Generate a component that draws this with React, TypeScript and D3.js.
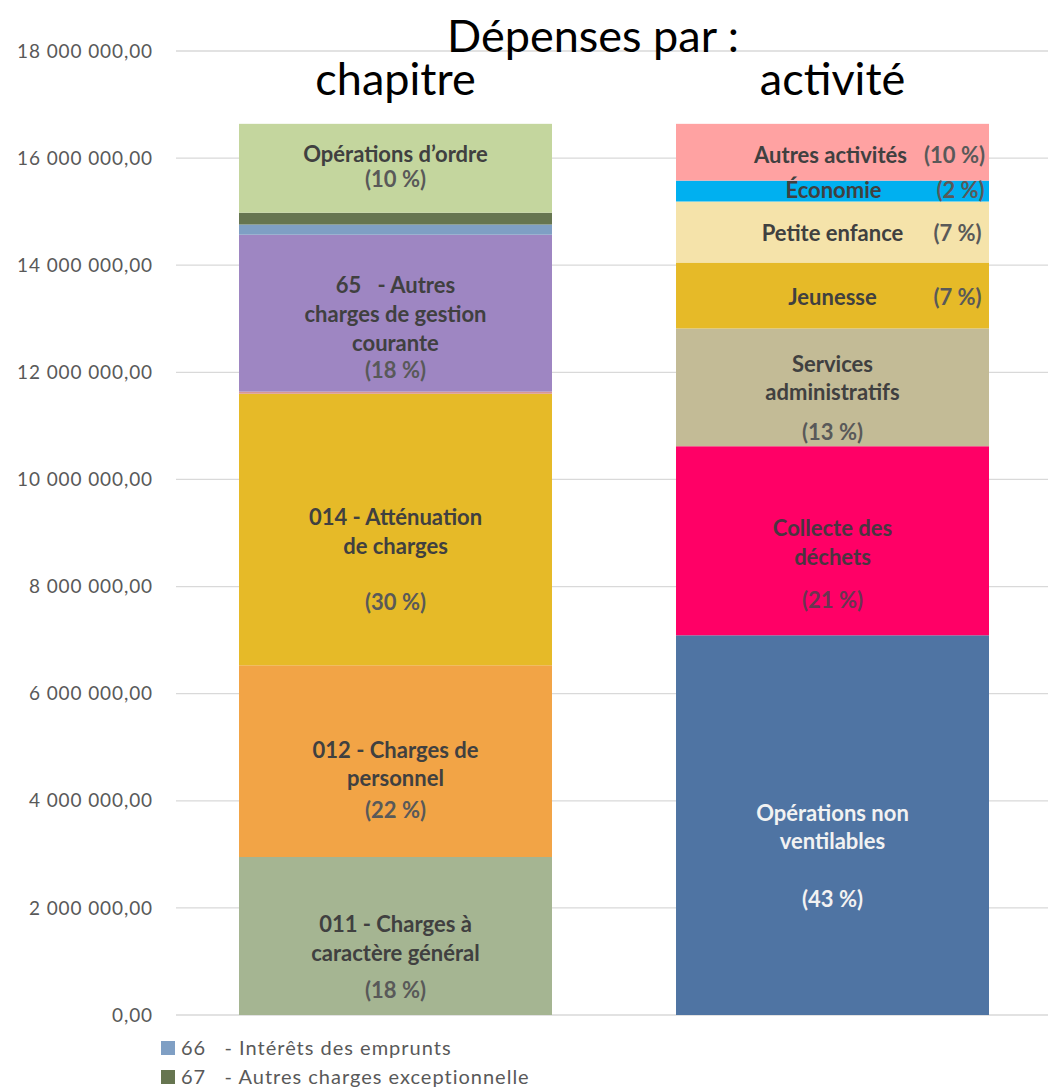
import React from "react";
import * as d3 from "d3";

const yTicks = [0, 2000000, 4000000, 6000000, 8000000, 10000000, 12000000, 14000000, 16000000, 18000000];

// Left bar: "chapitre"
const chapNames = ["011 - Charges à caractère général", "012 - Charges de personnel", "014 - Atténuation de charges", "016", "65 - Autres charges de gestion courante", "66 - Intérêts des emprunts", "67 - Autres charges exceptionnelle", "Opérations d'ordre"];
const chapValues = [2950000, 3580000, 5070000, 40000, 2930000, 190000, 220000, 1660000];
const chapColors = ["#A5B592", "#F2A446", "#E6BA28", "#D99694", "#9E86C2", "#7F9FC4", "#667550", "#C4D69E"];

// Right bar: "activité"
const actNames = ["Opérations non ventilables", "Collecte des déchets", "Services administratifs", "Jeunesse", "Petite enfance", "Économie", "Autres activités"];
const actValues = [7090000, 3530000, 2200000, 1230000, 1140000, 390000, 1060000];
const actColors = ["#4F74A3", "#FF0066", "#C3BB96", "#E6BA28", "#F5E3AA", "#00B0F0", "#FFA2A2"];

const legendLabels = ["66   - Intérêts des emprunts", "67   - Autres charges exceptionnelle"];
const legendColors = ["#7F9FC4", "#667550"];

type Line = { t: string; dy: number; pct?: boolean; dx?: number };
// label layouts: per segment index, lines with offset from segment middle
const chapLabels: (Line[] | null)[] = [
  [{ t: "011 - Charges à", dy: -12 }, { t: "caractère général", dy: 17 }, { t: "(18 %)", dy: 54, pct: true }],
  [{ t: "012 - Charges de", dy: -11 }, { t: "personnel", dy: 17 }, { t: "(22 %)", dy: 49, pct: true }],
  [{ t: "014 - Atténuation", dy: -12 }, { t: "de charges", dy: 17 }, { t: "(30 %)", dy: 73, pct: true }],
  null,
  [{ t: "65   - Autres", dy: -28 }, { t: "charges de gestion", dy: 1 }, { t: "courante", dy: 30 }, { t: "(18 %)", dy: 57, pct: true }],
  null,
  null,
  [{ t: "Opérations d’ordre", dy: -14 }, { t: "(10 %)", dy: 11, pct: true }],
];

const actLabels: Line[][] = [
  [{ t: "Opérations non", dy: -12 }, { t: "ventilables", dy: 16 }, { t: "(43 %)", dy: 74 }],
  [{ t: "Collecte des", dy: -12 }, { t: "déchets", dy: 17 }, { t: "(21 %)", dy: 60, pct: true }],
  [{ t: "Services", dy: -23 }, { t: "administratifs", dy: 5 }, { t: "(13 %)", dy: 45, pct: true }],
  [{ t: "Jeunesse", dy: 2, dx: 0 }, { t: "(7 %)", dy: 2, pct: true, dx: 125 }],
  [{ t: "Petite enfance", dy: 1.5, dx: 0 }, { t: "(7 %)", dy: 1.5, pct: true, dx: 125 }],
  [{ t: "Économie", dy: -0.5, dx: 1 }, { t: "(2 %)", dy: -0.5, pct: true, dx: 128 }],
  [{ t: "Autres activités", dy: 3.5, dx: -2 }, { t: "(10 %)", dy: 3.5, pct: true, dx: 122 }],
];

const FONT = "Lato, 'Open Sans', sans-serif";

export default function App() {
  const W = 1048, H = 1090;
  const y = d3.scaleLinear().domain([0, 18000000]).range([1015, 51]);
  const x = d3.scaleBand().domain(["chapitre", "activité"]).range([151.6, 1076.4]).paddingInner(0.2838).paddingOuter(0.2);
  const fmt = (v: number) => {
    const s = d3.format(",.2f")(v);
    return s.replace(/,/g, " ").replace(".", ",");
  };

  const stack = (vals: number[]) => {
    let c = 0;
    return vals.map((v) => { const s = c; c += v; return [s, c]; });
  };
  const chapStack = stack(chapValues);
  const actStack = stack(actValues);
  const bw = x.bandwidth();
  const xl = x("chapitre")!;
  const xr = x("activité")!;
  const LFS = 22;
  const pre = { whiteSpace: "pre" as const };

  return (
    <svg width={W} height={H} style={{ position: "absolute", left: 0, top: 0, background: "#fff" }} fontFamily={FONT}>
      {yTicks.map((t) => (
        <g key={t}>
          <line x1={176} x2={1048} y1={y(t)} y2={y(t)} stroke="#D9D9D9" strokeWidth={1.3} />
          <text x={153} y={y(t)} dy="0.35em" textAnchor="end" fontSize={19} letterSpacing={0.9} fill="#595959">{fmt(t)}</text>
        </g>
      ))}
      {chapStack.map(([a, b], i) => (
        <rect key={chapNames[i]} x={xl} width={bw} y={y(b)} height={y(a) - y(b)} fill={chapColors[i]} />
      ))}
      {actStack.map(([a, b], i) => (
        <rect key={actNames[i]} x={xr} width={bw} y={y(b)} height={y(a) - y(b)} fill={actColors[i]} />
      ))}
      {chapStack.map(([a, b], i) => {
        const ls = chapLabels[i];
        if (!ls) return null;
        const mid = (y(a) + y(b)) / 2;
        return ls.map((l, j) => (
          <text key={i + "-" + j} style={pre} x={xl + bw / 2} y={mid + l.dy} dy="0.35em" textAnchor="middle" fontSize={LFS} fontWeight={700} fill={l.pct ? "#595959" : "#404040"}>{l.t}</text>
        ));
      })}
      {actStack.map(([a, b], i) => {
        const ls = actLabels[i];
        const mid = (y(a) + y(b)) / 2;
        const white = i === 0;
        const pink = i === 1;
        return ls.map((l, j) => (
          <text key={i + "-" + j} x={xr + bw / 2 + (l.dx ?? 0)} y={mid + l.dy} dy="0.35em" textAnchor="middle" fontSize={LFS} fontWeight={700}
            fill={white ? "#F2F2F2" : pink ? (l.pct ? "#6A3550" : "#4A3540") : l.pct ? "#595959" : "#404040"}>{l.t}</text>
        ));
      })}
      <text x={593} y={36} dy="0.35em" textAnchor="middle" fontSize={45} fill="#000">Dépenses par :</text>
      <text x={xl + bw / 2} y={79} dy="0.35em" textAnchor="middle" fontSize={45} fill="#000">chapitre</text>
      <text x={xr + bw / 2} y={79} dy="0.35em" textAnchor="middle" fontSize={45} fill="#000">activité</text>
      {legendLabels.map((l, i) => (
        <g key={l}>
          <rect x={161} y={1041 + i * 29} width={14} height={14} fill={legendColors[i]} />
          <text x={181} y={1048 + i * 29} dy="0.35em" style={pre} fontSize={20} letterSpacing={1} fill="#595959">{l}</text>
        </g>
      ))}
    </svg>
  );
}
